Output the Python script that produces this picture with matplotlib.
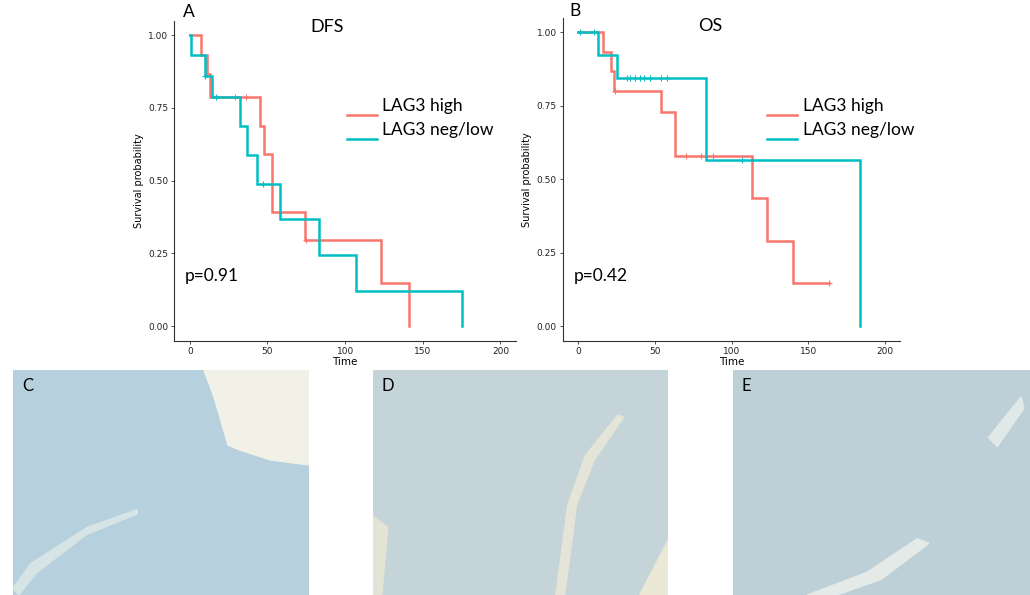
import numpy as np
import matplotlib
matplotlib.use('Agg')
import matplotlib.pyplot as plt
from matplotlib.lines import Line2D
from matplotlib.patches import Polygon, Rectangle

W, H = 1030, 595

# Kaplan-Meier steps (time of each drop, survival after it)
dfs_high_t = [0, 7, 11, 13, 45, 48, 53, 74, 123, 141]
dfs_high_s = [1.0, 0.933, 0.867, 0.786, 0.687, 0.59, 0.393, 0.295, 0.147, 0.0]
dfs_high_cens_t = [11, 29, 36, 75]
dfs_high_cens_s = [0.867, 0.786, 0.786, 0.295]

dfs_low_t = [0, 1, 10, 14, 32, 37, 43, 58, 83, 107, 175]
dfs_low_s = [1.0, 0.933, 0.86, 0.786, 0.687, 0.589, 0.49, 0.367, 0.245, 0.122, 0.0]
dfs_low_cens_t = [10, 17, 47]
dfs_low_cens_s = [0.86, 0.786, 0.49]

os_high_t = [0, 16, 21, 23, 54, 63, 113, 123, 140, 163.7]
os_high_s = [1.0, 0.933, 0.867, 0.80, 0.727, 0.58, 0.436, 0.29, 0.145, 0.145]
os_high_cens_t = [24, 70, 80, 88, 163.7]
os_high_cens_s = [0.80, 0.58, 0.58, 0.58, 0.145]

os_low_t = [0, 13, 25, 83, 184]
os_low_s = [1.0, 0.923, 0.846, 0.564, 0.0]
os_low_cens_t = [1, 10, 32, 34, 37, 40.5, 43, 47, 54, 58, 107]
os_low_cens_s = [1.0, 1.0] + [0.846] * 8 + [0.564]

x_ticks = [0, 50, 100, 150, 200]
y_ticks = [0.0, 0.25, 0.5, 0.75, 1.0]
y_ticklabels = ['0.00', '0.25', '0.50', '0.75', '1.00']
group_labels = ['LAG3 high', 'LAG3 neg/low']

RED = '#F8766D'
CYAN = '#00BFC4'
SANS = ['Lato', 'DejaVu Sans']

fig = plt.figure(figsize=(W / 100, H / 100), dpi=100)


def px_box(l, t, r, b):
    return [l / W, 1 - b / H, (r - l) / W, (b - t) / H]


def km_axes(box, high, low):
    ax = fig.add_axes(box)
    for (t, s, ct, cs), col in zip([high, low], [RED, CYAN]):
        ax.step(t, s, where='post', color=col, lw=1.8, solid_joinstyle='miter')
        ax.plot(ct, cs, ls='none', marker='+', ms=4, mew=0.8, color=col)
    ax.set_xlim(-10, 210)
    ax.set_ylim(-0.05, 1.05)
    ax.set_xticks(x_ticks)
    ax.set_yticks(y_ticks)
    ax.set_yticklabels(y_ticklabels)
    ax.tick_params(labelsize=6.5, length=2.5, width=0.6, color='#333333',
                   labelcolor='#222222', pad=2)
    for sp in ['top', 'right']:
        ax.spines[sp].set_visible(False)
    for sp in ['left', 'bottom']:
        ax.spines[sp].set_color('#333333')
        ax.spines[sp].set_linewidth(0.8)
    ax.set_xlabel('Time', fontsize=7.5, labelpad=1)
    ax.set_ylabel('Survival probability', fontsize=7, labelpad=3)
    return ax


km_axes(px_box(174.3, 20.5, 516, 340.7),
        (dfs_high_t, dfs_high_s, dfs_high_cens_t, dfs_high_cens_s),
        (dfs_low_t, dfs_low_s, dfs_low_cens_t, dfs_low_cens_s))
km_axes(px_box(563, 17.6, 900.3, 340.7),
        (os_high_t, os_high_s, os_high_cens_t, os_high_cens_s),
        (os_low_t, os_low_s, os_low_cens_t, os_low_cens_s))


def ftext(x, y, s, size, **kw):
    fig.text(x / W, 1 - y / H, s, fontsize=size, family=SANS,
             va='center', **kw)


# panel letters, titles, p values
ftext(183, 12, 'A', 12.5)
ftext(327, 27, 'DFS', 13, ha='center')
ftext(185, 276, 'p=0.91', 12.5)
ftext(569, 11, 'B', 12.5)
ftext(710, 26, 'OS', 13, ha='center')
ftext(574, 276, 'p=0.42', 12.5)

# legends
for lx, tx in [(346.7, 381.7), (766.7, 802.7)]:
    for i, (lab, col) in enumerate(zip(group_labels, [RED, CYAN])):
        ly = 115 + 23.5 * i
        fig.add_artist(Line2D([lx / W, (lx + 30) / W], [1 - ly / H, 1 - ly / H],
                              color=col, lw=1.8))
        ftext(tx, 106.5 + 24 * i, lab, 12.5)

# histology panels C, D, E (flat tissue tones)
panels = [
    ('C', 13, 309, '#b6d0dd'),
    ('D', 373, 668, '#c4d4d9'),
    ('E', 733, 1030, '#bdcfd7'),
]
for letter, l, r, col in panels:
    ax = fig.add_axes(px_box(l, 370, r, 595))
    ax.set_xlim(0, 1)
    ax.set_ylim(0, 1)
    ax.add_patch(Rectangle((0, 0), 1, 1, color=col))
    ax.axis('off')
    if letter == 'C':
        ax.add_patch(Polygon([(0.645, 1), (1, 1), (1, 0.578), (0.87, 0.6),
                              (0.767, 0.644), (0.726, 0.667), (0.68, 0.876)],
                             color='#f2f1e8'))
        ax.add_patch(Polygon([(0, 0.03), (0.06, 0.14), (0.25, 0.3), (0.42, 0.38),
                              (0.42, 0.36), (0.25, 0.27), (0.08, 0.1), (0.02, 0)],
                             color='#d6e4e6'))
    if letter == 'D':
        ax.add_patch(Polygon([(0.62, 0), (0.66, 0.4), (0.72, 0.62), (0.83, 0.8),
                              (0.85, 0.79), (0.75, 0.6), (0.69, 0.4), (0.65, 0)],
                             color='#e4e4d8'))
        ax.add_patch(Polygon([(0.9, 0), (1, 0), (1, 0.25)], color='#ece8d6'))
        ax.add_patch(Polygon([(0, 0.35), (0.05, 0.3), (0.03, 0.0), (0, 0)],
                             color='#e3e3d6'))
    if letter == 'E':
        ax.add_patch(Polygon([(0.25, 0), (0.45, 0.1), (0.62, 0.25), (0.66, 0.23),
                              (0.5, 0.07), (0.35, 0)], color='#e3eae8'))
        ax.add_patch(Polygon([(0.86, 0.7), (0.97, 0.88), (0.98, 0.83), (0.89, 0.66)],
                             color='#e1e9e8'))
    ax.text(0.03, 0.93, letter, fontsize=12, family=SANS, va='center',
            transform=ax.transAxes)

fig.savefig('out.png', dpi=100)
